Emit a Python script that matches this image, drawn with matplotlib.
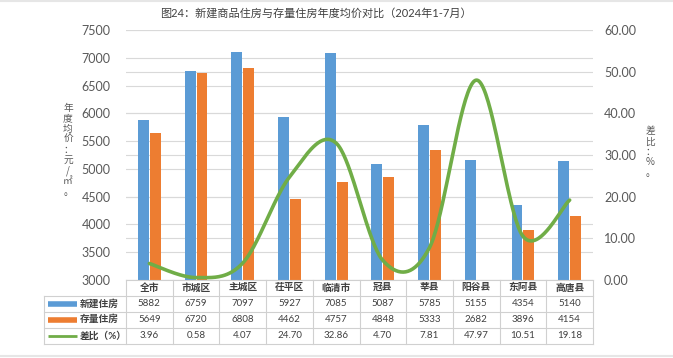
import numpy as np
import matplotlib
matplotlib.use('Agg')
import matplotlib.pyplot as plt

plt.rcParams['font.family'] = ['Lato', 'Noto Sans CJK SC', 'DejaVu Sans']

regions = ['全市', '市城区', '主城区', '茌平区', '临清市', '冠县', '莘县', '阳谷县', '东阿县', '高唐县']
new_price = [5882, 6759, 7097, 5927, 7085, 5087, 5785, 5155, 4354, 5140]
old_price = [5649, 6720, 6808, 4462, 4757, 4848, 5333, 2682, 3896, 4154]
ratio = [3.96, 0.58, 4.07, 24.70, 32.86, 4.70, 7.81, 47.97, 10.51, 19.18]
series_names = ['新建住房', '存量住房', '差比（%）']

BLUE = '#5B9BD5'
ORANGE = '#ED7D31'
GREEN = '#70AD47'
TXT = '#404040'
GRID = '#D9D9D9'

W, H = 673, 358
fig = plt.figure(figsize=(W / 100, H / 100), dpi=100)

# plot area in pixels
px0, px1, py0, py1 = 126, 593, 30, 280
ax = fig.add_axes([px0 / W, 1 - py1 / H, (px1 - px0) / W, (py1 - py0) / H])
ax2 = ax.twinx()

x = np.arange(len(regions))
bw = 0.235
ax.bar(x - bw / 2 - 0.01, new_price, bw, color=BLUE, zorder=3)
ax.bar(x + bw / 2 + 0.01, old_price, bw, color=ORANGE, zorder=3)

ax.set_xlim(-0.5, len(regions) - 0.5)
ax.set_ylim(3000, 7500)
ax2.set_ylim(0, 60)

# gridlines for both axes, kept behind the bars
for v in np.arange(3000, 7501, 500):
    ax.axhline(v, color=GRID, lw=0.8, zorder=1)
for v in np.arange(0, 61, 10):
    ax.axhline(3000 + v / 60 * 4500, color=GRID, lw=0.8, zorder=1)


# smoothed line like excel (catmull-rom)
def smooth(xs, ys, n=40):
    p = np.column_stack([xs, ys]).astype(float)
    p = np.vstack([p[0], p, p[-1]])
    out = []
    t = np.linspace(0, 1, n)[:, None]
    for i in range(1, len(p) - 2):
        p0, p1, p2, p3 = p[i - 1], p[i], p[i + 1], p[i + 2]
        c = 0.5 * (2 * p1 + (-p0 + p2) * t + (2 * p0 - 5 * p1 + 4 * p2 - p3) * t ** 2
                   + (-p0 + 3 * p1 - 3 * p2 + p3) * t ** 3)
        out.append(c)
    c = np.vstack(out)
    return c[:, 0], c[:, 1]


sx, sy = smooth(x, ratio)
ax2.plot(sx, sy, color=GREEN, lw=2.6, solid_capstyle='round', zorder=4)

ax.set_yticks(np.arange(3000, 7501, 500))
ax2.set_yticks(np.arange(0, 61, 10))
ax2.set_yticklabels([f'{v:.2f}' for v in np.arange(0, 61, 10)])
ax.set_xticks([])
ax.tick_params(axis='y', length=0, labelsize=9, labelcolor='#595959', pad=11)
ax2.tick_params(axis='y', length=0, labelsize=9, labelcolor='#595959', pad=8)
for a in (ax, ax2):
    for s in a.spines.values():
        s.set_visible(False)

# table under the chart, drawn in pixel coords
tab = fig.add_axes([0, 0, 1, 1])
tab.set_xlim(0, W)
tab.set_ylim(H, 0)
tab.axis('off')
tab.patch.set_alpha(0)

cw = (px1 - px0) / len(regions)
rows = [280, 295.5, 311.5, 327.5, 344]
lx0 = 44
lc = '#D0D0D0'
tab.plot([px0, px1], [rows[0], rows[0]], color=lc, lw=0.8)
for r in rows[1:]:
    tab.plot([lx0, px1], [r, r], color=lc, lw=0.8)
for i in range(len(regions) + 1):
    xe = px0 + i * cw
    tab.plot([xe, xe], [rows[0], rows[-1]], color=lc, lw=0.8)
tab.plot([lx0, lx0], [rows[1], rows[-1]], color=lc, lw=0.8)

for i, name in enumerate(regions):
    cx = px0 + (i + 0.5) * cw
    tab.text(cx, (rows[0] + rows[1]) / 2, name, ha='center', va='center',
             fontsize=7, fontweight='bold', color=TXT)
    vals = [str(new_price[i]), str(old_price[i]), f'{ratio[i]:.2f}']
    for j, s in enumerate(vals):
        tab.text(cx, (rows[j + 1] + rows[j + 2]) / 2, s, ha='center', va='center',
                 fontsize=7, color=TXT)

swatch = [(BLUE, 4), (ORANGE, 4), (GREEN, 2)]
for j, (col, lw) in enumerate(swatch):
    cy = (rows[j + 1] + rows[j + 2]) / 2
    tab.plot([48, 77], [cy, cy], color=col, lw=lw, solid_capstyle='butt')
    tab.text(80, cy, series_names[j], ha='left', va='center', fontsize=7,
             fontweight='bold', color=TXT)

# thin gray frame lines at top and bottom of image
tab.plot([0, W], [1, 1], color='#E6E6E6', lw=1.5)
tab.plot([0, W], [356, 356], color='#E6E6E6', lw=1.5)

cjk = ['Noto Sans CJK SC', 'DejaVu Sans']
fig.text(160 / W, 1 - 13 / H, '图24：新建商品住房与存量住房年度均价对比（2024年1-7月）',
         ha='left', va='center', fontsize=8, color=TXT)
fig.text(68 / W, 1 - 150 / H, '\n'.join('年度均价：元/㎡。'), ha='center', va='center',
         fontsize=7, color='#595959', linespacing=1.05, family=cjk)
fig.text(650 / W, 1 - 152 / H, '\n'.join('差比：%。'), ha='center', va='center',
         fontsize=7, color='#595959', linespacing=1.05, family=cjk)

fig.savefig('out.png', dpi=100, facecolor='white')
